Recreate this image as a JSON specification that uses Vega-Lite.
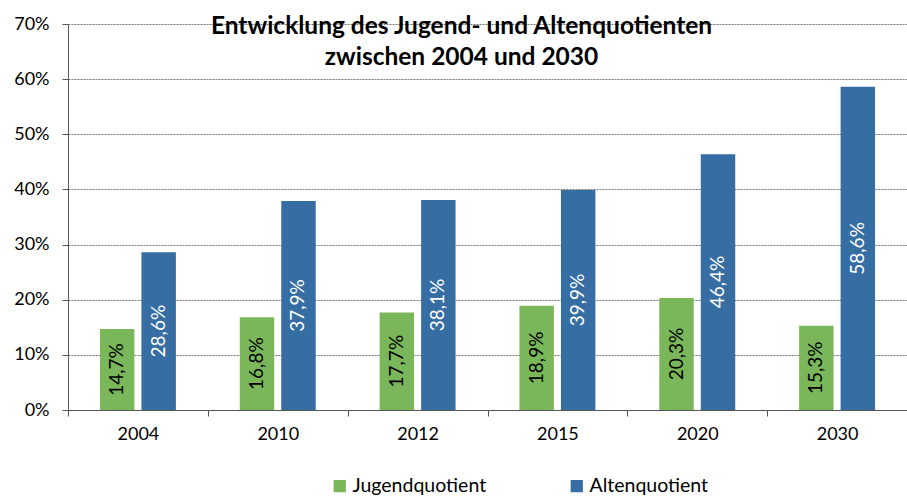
{
  "$schema": "https://vega.github.io/schema/vega-lite/v6.json",
  "width": 839,
  "height": 386,
  "autosize": {"type": "none"},
  "padding": {"left": 68, "top": 24, "right": 0, "bottom": 86},
  "background": "white",
  "config": {
    "font": "Lato",
    "view": {"stroke": null},
    "locale": {"number": {"decimal": ",", "thousands": ".", "grouping": [3], "currency": ["", " €"]}}
  },
  "title": {
    "text": ["Entwicklung des Jugend- und Altenquotienten", "zwischen 2004 und 2030"],
    "fontSize": 24.5,
    "fontWeight": "bold",
    "color": "black",
    "anchor": "middle",
    "frame": "group",
    "dx": -26,
    "baseline": "top",
    "lineHeight": 31,
    "offset": -55
  },
  "data": {
    "values": [
      {"year": "2004", "series": "Jugendquotient", "value": 0.147},
      {"year": "2004", "series": "Altenquotient", "value": 0.286},
      {"year": "2010", "series": "Jugendquotient", "value": 0.168},
      {"year": "2010", "series": "Altenquotient", "value": 0.379},
      {"year": "2012", "series": "Jugendquotient", "value": 0.177},
      {"year": "2012", "series": "Altenquotient", "value": 0.381},
      {"year": "2015", "series": "Jugendquotient", "value": 0.189},
      {"year": "2015", "series": "Altenquotient", "value": 0.399},
      {"year": "2020", "series": "Jugendquotient", "value": 0.203},
      {"year": "2020", "series": "Altenquotient", "value": 0.464},
      {"year": "2030", "series": "Jugendquotient", "value": 0.153},
      {"year": "2030", "series": "Altenquotient", "value": 0.586}
    ]
  },
  "transform": [{"calculate": "datum.value / 2", "as": "mid"}],
  "encoding": {
    "x": {
      "field": "year", "type": "nominal", "sort": null,
      "scale": {"paddingInner": 0, "paddingOuter": 0},
      "axis": {
        "title": null, "labelAngle": 0, "labelFontSize": 18, "labelColor": "black",
        "domainColor": "#555", "tickColor": "#555", "tickSize": 6, "tickBand": "extent",
        "labelPadding": 9
      }
    },
    "xOffset": {
      "field": "series", "type": "nominal", "sort": ["Jugendquotient", "Altenquotient"],
      "scale": {"paddingInner": 0.17, "paddingOuter": 0.77}
    }
  },
  "layer": [
    {
      "mark": {"type": "bar"},
      "encoding": {
        "y": {
          "field": "value", "type": "quantitative",
          "scale": {"domain": [0, 0.7], "nice": false},
          "axis": {
            "title": null, "values": [0, 0.1, 0.2, 0.3, 0.4, 0.5, 0.6, 0.7], "format": ".0%",
            "labelFontSize": 18, "labelColor": "black", "labelPadding": 13,
            "domainColor": "#555", "tickColor": "#555", "tickSize": 6,
            "grid": true, "gridColor": "#777", "gridDash": [2, 1], "gridWidth": 1
          }
        },
        "color": {
          "field": "series", "type": "nominal",
          "sort": ["Jugendquotient", "Altenquotient"],
          "scale": {"domain": ["Jugendquotient", "Altenquotient"], "range": ["#7AB65A", "#366EA3"]},
          "legend": {
            "title": null, "orient": "none", "direction": "horizontal",
            "legendX": 262, "legendY": 452,
            "symbolType": "square", "symbolSize": 150, "symbolStrokeWidth": 0,
            "labelFontSize": 19.5, "labelColor": "black", "columnPadding": 80, "labelOffset": 3
          }
        }
      }
    },
    {
      "mark": {"type": "text", "angle": 270, "align": "center", "baseline": "middle", "fontSize": 19},
      "encoding": {
        "y": {"field": "mid", "type": "quantitative"},
        "text": {"field": "value", "type": "quantitative", "format": ".1%"},
        "color": {
          "condition": {"test": "datum.series === 'Altenquotient'", "value": "white"},
          "value": "black"
        }
      }
    }
  ]
}
